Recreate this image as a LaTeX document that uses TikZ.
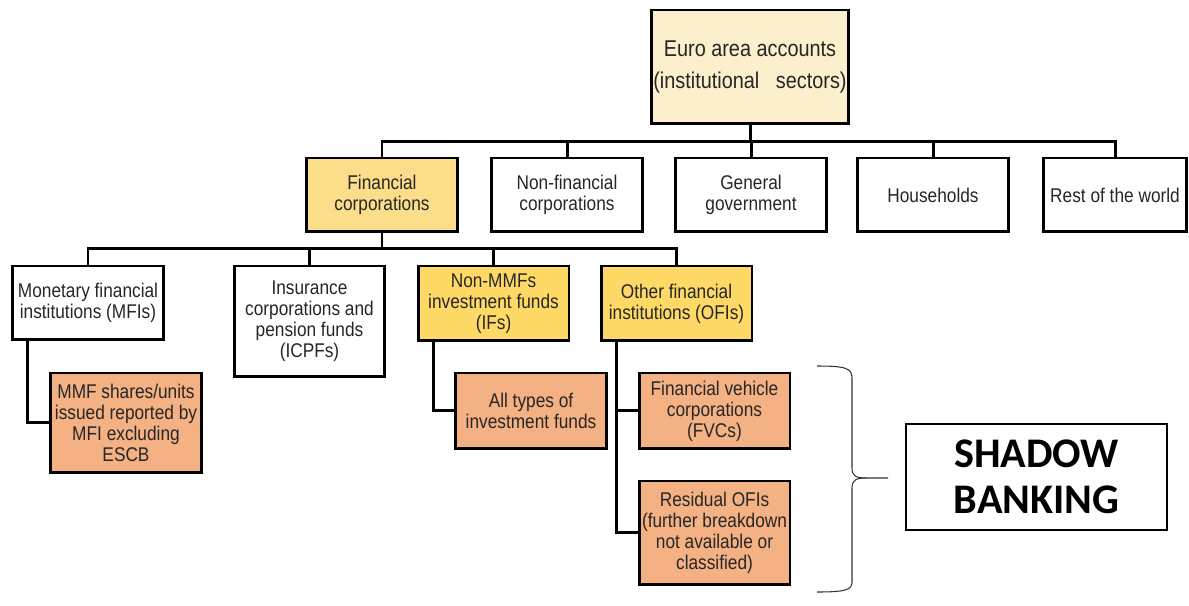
\documentclass[tikz,border=0pt]{standalone}
\usepackage{fontspec}
\setmainfont{Liberation Sans}[FakeStretch=0.87]
\newfontfamily\bannerfont{Carlito}
\definecolor{eurofill}{RGB}{252,240,204}
\definecolor{finfill}{RGB}{251,221,138}
\definecolor{yelfill}{RGB}{255,217,102}
\definecolor{orgfill}{RGB}{244,177,131}
\tikzset{
  box/.style={draw=black, line width=1.7pt, inner sep=1pt, align=center, anchor=north,
    text=black!85, font=\fontsize{11.3}{12}\selectfont, minimum width=3.02cm},
  conn/.style={line width=1.7pt}
}
\begin{document}
\begin{tikzpicture}[x=0.02cm,y=-0.02cm]
\useasboundingbox (0,0) rectangle (1189,605);
\node[box, fill=eurofill, minimum width=3.86cm, minimum height=2.28cm, font=\fontsize{13}{18.6}\selectfont] (euro) at (750,8.5) {Euro area accounts\\(institutional\ \ \ sectors)};
\node[box, fill=finfill, minimum height=1.48cm] (fin) at (382,156.5) {Financial\\corporations};
\node[box, minimum height=1.48cm] (nonfin) at (567,156.5) {Non-financial\\corporations};
\node[box, minimum height=1.48cm] (gov) at (751,156.5) {General\\government};
\node[box, minimum height=1.48cm] (hh) at (933,156.5) {Households};
\node[box, minimum height=1.48cm, minimum width=2.86cm] (row) at (1115,156.5) {Rest of the world};
\node[box, minimum height=1.48cm] (mfi) at (88,264.5) {Monetary financial\\institutions (MFIs)};
\node[box, minimum height=2.22cm] (icpf) at (309.5,264.5) {Insurance\\corporations and\\pension funds\\(ICPFs)};
\node[box, fill=yelfill, minimum height=1.5cm] (nonmmf) at (493.5,264.5) {Non-MMFs\\investment funds\\(IFs)};
\node[box, fill=yelfill, minimum height=1.5cm] (ofi) at (676.5,264.5) {Other financial\\institutions (OFIs)};
\node[box, fill=orgfill, minimum height=2.0cm] (mmf) at (126,371.5) {MMF shares/units\\issued reported by\\MFI excluding\\ESCB};
\node[box, fill=orgfill, minimum height=1.52cm] (alltypes) at (531,371.5) {All types of\\investment funds};
\node[box, fill=orgfill, minimum height=1.52cm] (fvc) at (714.5,371.5) {Financial vehicle\\corporations\\(FVCs)};
\node[box, fill=orgfill, minimum height=2.08cm] (resid) at (714.5,479.5) {Residual OFIs\\(further breakdown\\not available or\\classified)};
\node[box, anchor=center, line width=1.2pt, text=black, minimum width=5.22cm, minimum height=2.12cm,
  font=\bannerfont\bfseries\fontsize{24}{26.5}\selectfont] (shadow) at (1036.5,477) {SHADOW\\BANKING};
\foreach \n in {fin,nonfin,gov,hh,row}
  \draw[conn] (euro.south) -- ++(0,16) -| (\n.north);
\foreach \n in {mfi,icpf,nonmmf,ofi}
  \draw[conn] (fin.south) -- ++(0,15) -| (\n.north);
\draw[conn] (mfi.south west) ++(16,0) |- (mmf.west);
\draw[conn] (nonmmf.south west) ++(17,0) |- (alltypes.west);
\draw[conn] (ofi.south west) ++(17,0) |- (fvc.west);
\draw[conn] (ofi.south west) ++(17,0) |- (resid.west);
\draw[line width=0.6pt, black!80] (817,366) .. controls (845,366) and (852,368) .. (852,378) -- (852,468)
  .. controls (852,476) and (856,478) .. (866,478) -- (888,478);
\draw[line width=0.6pt, black!80] (866,478) .. controls (856,478) and (852,480) .. (852,488) -- (852,582)
  .. controls (852,590) and (845,592) .. (817,592);
\end{tikzpicture}
\end{document}
